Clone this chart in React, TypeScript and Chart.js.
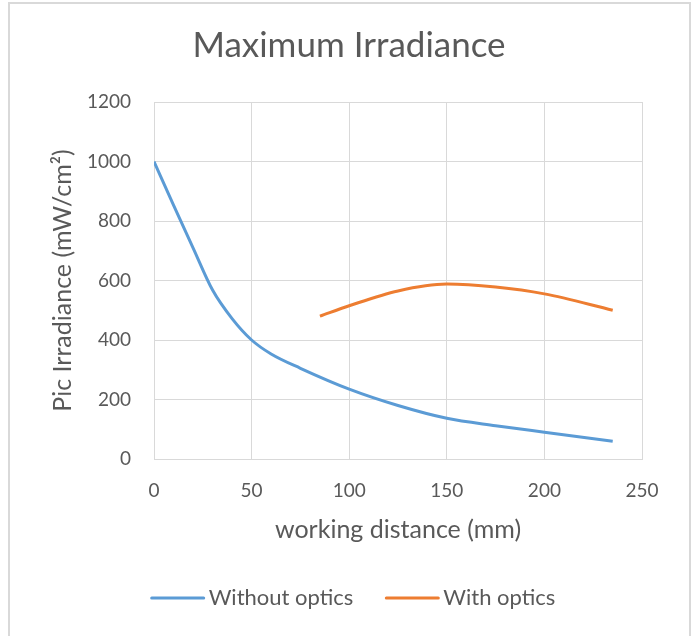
import React, { useEffect, useRef } from "react";
import { Chart, registerables } from "chart.js";

Chart.register(...registerables);

const TITLE = "Maximum Irradiance";
const X_TITLE = "working distance (mm)";
const Y_TITLE = "Pic Irradiance (mW/cm²)";

const withoutLabel = "Without optics";
const withoutX = [0, 10, 20, 30, 40, 50, 60, 75, 100, 125, 150, 175, 200, 235];
const withoutY = [1000, 853, 710, 568, 472, 400, 353, 305, 235, 180, 137, 112, 90, 60];

const withLabel = "With optics";
const withX = [85, 100, 125, 150, 175, 200, 235];
const withY = [480, 515, 565, 588, 578, 555, 500];

const X_MIN = 0, X_MAX = 250, X_STEP = 50;
const Y_MIN = 0, Y_MAX = 1200, Y_STEP = 200;

const FONT = "Lato, 'Open Sans', sans-serif";
const TEXT = "#595959";
const GRID = "#d9d9d9";
const BLUE = "#5B9BD5";
const ORANGE = "#ED7D31";

const borderPlugin = {
  id: "outerBorder",
  beforeDraw(chart: any) {
    const c = chart.ctx;
    c.save();
    c.fillStyle = "#ffffff";
    c.fillRect(0, 0, chart.width, chart.height);
    c.strokeStyle = GRID;
    c.lineWidth = 2;
    c.strokeRect(9, 3, 681, 660);
    c.fillStyle = TEXT;
    c.font = `35px ${FONT}`;
    c.textAlign = "center";
    c.textBaseline = "middle";
    c.fillText(TITLE, 349, 46);
    c.restore();
  },
};

const legendPlugin = {
  id: "customLegend",
  afterDraw(chart: any) {
    const c = chart.ctx;
    c.save();
    c.font = `22px ${FONT}`;
    c.textBaseline = "middle";
    c.textAlign = "left";
    const lineLen = 54;
    const gap = 4;
    const between = 32;
    const items = chart.data.datasets.map((d: any) => ({
      text: d.label,
      color: d.borderColor,
      w: c.measureText(d.label).width,
    }));
    const total =
      items.reduce((s: number, it: any) => s + lineLen + gap + it.w, 0) +
      between * (items.length - 1);
    let x = 353 - total / 2;
    const y = 598;
    items.forEach((it: any) => {
      c.strokeStyle = it.color;
      c.lineWidth = 3;
      c.lineCap = "round";
      c.beginPath();
      c.moveTo(x + 1, y);
      c.lineTo(x + lineLen - 1, y);
      c.stroke();
      c.fillStyle = TEXT;
      c.fillText(it.text, x + lineLen + gap, y);
      x += lineLen + gap + it.w + between;
    });
    c.restore();
  },
};

export default function App() {
  const ref = useRef<HTMLCanvasElement>(null);
  useEffect(() => {
    document.body.style.margin = "0";
    const ctx = ref.current!;
    const chart = new Chart(ctx, {
      type: "line",
      data: {
        datasets: [
          {
            label: withoutLabel,
            data: withoutX.map((x, i) => ({ x, y: withoutY[i] })),
            borderColor: BLUE,
            backgroundColor: BLUE,
            borderWidth: 3,
            pointRadius: 0,
            cubicInterpolationMode: "monotone",
            fill: false,
          },
          {
            label: withLabel,
            data: withX.map((x, i) => ({ x, y: withY[i] })),
            borderColor: ORANGE,
            backgroundColor: ORANGE,
            borderWidth: 3,
            pointRadius: 0,
            cubicInterpolationMode: "monotone",
            fill: false,
          },
        ],
      },
      options: {
        animation: false,
        responsive: false,
        devicePixelRatio: 1,
        layout: { padding: { left: 42, right: 55, top: 102, bottom: 80 } },
        plugins: {
          title: { display: false },
          legend: { display: false },
          tooltip: { enabled: false },
        },
        scales: {
          x: {
            type: "linear",
            min: X_MIN,
            max: X_MAX,
            ticks: {
              stepSize: X_STEP,
              color: TEXT,
              font: { family: FONT, size: 19 },
              padding: 20,
              maxRotation: 0,
              callback: (v: any) => String(v),
            },
            grid: { color: GRID, lineWidth: 1, drawTicks: false },
            border: { color: GRID, width: 1 },
            title: {
              display: true,
              text: X_TITLE,
              color: TEXT,
              font: { family: FONT, size: 25, lineHeight: 1.2 },
              padding: { top: 0, bottom: 11 },
            },
            afterFit: (s: any) => {
              s.height = 97;
            },
          },
          y: {
            type: "linear",
            min: Y_MIN,
            max: Y_MAX,
            ticks: {
              stepSize: Y_STEP,
              color: TEXT,
              font: { family: FONT, size: 19 },
              padding: 23,
              callback: (v: any) => String(v),
            },
            grid: { color: GRID, lineWidth: 1, drawTicks: false },
            border: { color: GRID, width: 1 },
            title: {
              display: true,
              text: Y_TITLE,
              color: TEXT,
              font: { family: FONT, size: 25, lineHeight: 1.2 },
              padding: { top: 6, bottom: 0 },
            },
            afterFit: (s: any) => {
              s.width = 112;
            },
          },
        },
      },
      plugins: [borderPlugin, legendPlugin],
    });
    return () => chart.destroy();
  }, []);
  return (
    <div style={{ width: 697, height: 636 }}>
      <canvas ref={ref} width={697} height={636} style={{ display: "block" }} />
    </div>
  );
}
